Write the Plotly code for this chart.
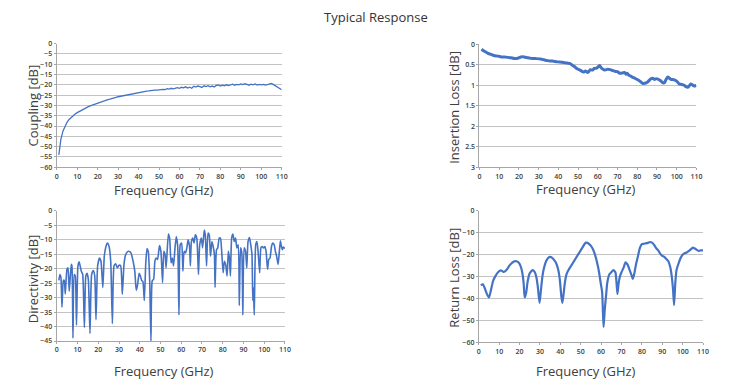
import plotly.graph_objects as go

W, H = 746, 388          # browser window
OFF = 8                  # default body margin of the html page
FW, FH = W - 2 * OFF, H - OFF   # figure size

# ---------------- data ----------------
coupling_f = list(range(1, 111))
coupling_db = [-54, -46.5, -42.5, -40, -38.2, -36.8, -35.8, -35, -34.2, -33.5,
               -32.9, -32.3, -31.8, -31.3, -30.8, -30.4, -30, -29.6, -29.2, -28.9,
               -28.5, -28.2, -27.9, -27.5, -27.2, -27, -26.6, -26.3, -26.1, -25.8,
               -25.6, -25.3, -25.2, -24.9, -24.7, -24.5, -24.2, -24.1, -23.9, -23.7,
               -23.5, -23.4, -23.2, -23.1, -23, -22.8, -22.7, -22.6, -22.6, -22.4,
               -22.3, -22.2, -22.3, -21.9, -22.1, -21.7, -22, -21.5, -21.4, -21.7,
               -21.2, -21.5, -21.0, -21.6, -21.2, -21.7, -20.7, -21.1, -20.6, -20.9,
               -21.3, -20.5, -20.9, -20.4, -21.0, -20.6, -21.1, -20.3, -20.1, -20.6,
               -20.2, -20.5, -20.0, -20.4, -20.1, -19.7, -20.2, -19.8, -20.0, -19.6,
               -19.9, -19.5, -19.8, -20.2, -19.7, -20.0, -19.6, -20.1, -19.8, -20.0,
               -19.8, -20.1, -19.9, -19.4, -19.3, -19.9, -20.6, -21.4, -21.8, -22.4]

il_f = [1, 2.5, 4.3, 6, 7.7, 9.5, 11, 12.7, 14.4, 16, 17.7, 19.5, 21, 22.7, 24.5, 26,
        28.5, 31, 32.7, 34.4, 37, 39.5, 42, 44.5, 46, 47, 48.3, 49.5, 51, 52, 53, 53.7,
        54.8, 55.5, 56.2, 57.3, 58.2, 59.5, 60.9, 61.5, 62, 63, 63.7, 65, 66.2, 67.5,
        68.7, 70, 71.2, 72.5, 73.7, 74.3, 74.9, 75.6, 76.3, 77.5, 78.8, 80, 81.3, 82.1,
        82.9, 83.8, 84.6, 85.5, 86.3, 87.1, 87.9, 88.8, 89.6, 90.5, 91.3, 92.1, 93, 93.8,
        94.6, 95.5, 96.3, 97.2, 98, 98.8, 100, 101.3, 102.5, 103.8, 104.6, 105.5, 106.3,
        107.2, 108, 108.9, 110]
il_db = [0.12, 0.17, 0.22, 0.25, 0.28, 0.29, 0.31, 0.31, 0.32, 0.33, 0.35, 0.34, 0.31,
         0.31, 0.33, 0.34, 0.35, 0.36, 0.38, 0.40, 0.41, 0.43, 0.44, 0.46, 0.47, 0.51,
         0.55, 0.60, 0.63, 0.66, 0.68, 0.65, 0.69, 0.66, 0.62, 0.63, 0.59, 0.58, 0.52,
         0.56, 0.59, 0.62, 0.63, 0.61, 0.62, 0.64, 0.66, 0.67, 0.71, 0.70, 0.69, 0.73,
         0.71, 0.75, 0.77, 0.80, 0.83, 0.86, 0.90, 0.93, 0.96, 0.95, 0.94, 0.91, 0.87,
         0.84, 0.83, 0.86, 0.84, 0.85, 0.87, 0.90, 0.94, 0.94, 0.86, 0.80, 0.83, 0.86,
         0.86, 0.87, 0.90, 0.97, 0.98, 1.00, 1.03, 1.05, 1.02, 0.97, 0.99, 1.02, 1.00]

dir_f = [1, 1.5, 2, 2.5, 3.2, 3.6, 4.1, 4.9, 5.4, 6, 7, 7.3, 7.8, 8.4, 8.9, 9.5, 10.2,
         10.8, 11.8, 12.5, 13.3, 14, 14.6, 15.2, 16, 16.8, 17.6, 18.3, 18.9, 19.7, 20.6,
         21.3, 22.2, 22.9, 23.7, 24.4, 25.2, 26, 26.8, 27.6, 28.4, 29.2, 30, 30.8, 31.6,
         32.4, 33.2, 34.3, 35.6, 36.8, 37.6, 38.1, 38.4, 39, 39.7, 40.3, 40.9, 41.5, 42.2,
         42.9, 43.5, 44.1, 44.8, 45.4, 46, 46.7, 47.3, 47.9, 48.6, 49.5, 50.2, 51, 51.6,
         52.2, 52.7, 53.8, 54.4, 55.1, 55.7, 56.3, 57, 57.6, 58.3, 58.9, 59.5, 60.2, 60.8,
         61.4, 62.1, 62.7, 63.3, 64, 64.4, 64.9, 65.6, 66.2, 66.8, 67.5, 68.3, 68.9, 69.7,
         70.3, 71.1, 71.6, 72.2, 72.9, 73.5, 74.1, 74.8, 75.4, 76, 76.3, 77, 77.6, 78.3,
         78.9, 79.5, 80.2, 80.8, 81.4, 82.1, 82.7, 83.2, 83.7, 84.3, 84.9, 85.6, 86.2,
         86.8, 87.5, 88, 88.6, 89.2, 89.7, 90.3, 91, 91.6, 92.2, 92.9, 93.5, 94.1, 94.5,
         94.8, 95.2, 95.9, 96.5, 97.1, 97.8, 98.4, 99, 99.7, 100.3, 100.9, 101.6, 102.2,
         102.8, 103.5, 104.1, 104.8, 105.4, 106, 106.7, 107.3, 107.8, 108.3, 108.8, 109.2,
         110]
dir_db = [-24, -22, -23, -33.3, -24, -24, -28.7, -20.2, -19.7, -27.8, -18.5, -19, -44,
          -22, -22.5, -39.5, -19, -17.6, -20.8, -22, -40.3, -22.5, -21.6, -23.6, -42.4,
          -22, -20.6, -22.5, -37.6, -19, -16.3, -17.4, -26.5, -15.7, -12.3, -11.1, -12.3,
          -17.4, -39, -19, -18.3, -19.7, -18.8, -19, -28.8, -18.5, -15.1, -14, -14.3,
          -17.4, -20.8, -25.9, -27.4, -25.3, -21.6, -22.5, -24, -24.4, -31, -18, -13, -14,
          -24.2, -45, -24.2, -23.6, -17.4, -16.3, -16.8, -12, -14, -24.8, -14, -15.1,
          -19.7, -8, -9.4, -18, -16.3, -19, -12.8, -8.9, -12.3, -36, -11.7, -11.1, -20.8,
          -14, -14.5, -12.8, -10, -12.3, -19, -10.6, -9.4, -11.1, -8.3, -9.4, -22, -11.7,
          -9.4, -12.8, -6.6, -8.3, -19, -7.7, -8.3, -15.7, -10.6, -12.3, -15.1, -26.5,
          -13.4, -12.8, -9.4, -9.4, -14, -21.4, -17.4, -18.5, -22.5, -14, -16.3, -22.5,
          -9.4, -8, -10.6, -9.4, -12.8, -11.7, -32.7, -12.8, -14.5, -36, -12.8, -14, -19.7,
          -10.6, -9.2, -11.7, -15.1, -31, -26.5, -36, -11.7, -10.6, -14.5, -21.4, -12.8,
          -12.3, -12.8, -12.3, -14, -20.2, -16.8, -16.3, -12.3, -11.1, -11.7, -14, -15.7,
          -18.5, -14, -10.3, -12.3, -13.4, -12.5, -13]

rl_f = [1, 2, 3, 4, 5, 6, 7, 8, 9, 10, 11, 12, 13, 14, 15, 16, 17, 18.5, 19.5, 20.5,
        21.3, 22, 22.5, 23.2, 24, 25, 26.5, 27.5, 28.3, 29, 29.8, 30.5, 31.2, 32, 33,
        34, 35, 36, 37, 38, 39, 39.7, 40.5, 41, 41.6, 42.2, 43, 44, 45, 46, 47, 48, 49,
        50, 51, 52.5, 54, 55, 56, 57, 58, 59, 59.8, 60.5, 61.2, 61.8, 62.5, 63, 64, 65,
        66, 67, 67.5, 68, 68.6, 69.2, 70, 71, 72, 73, 74, 75, 75.5, 76.2, 77, 78, 79, 80,
        81, 82, 83, 84, 85, 86, 87, 88, 89, 90, 91, 92, 93, 94, 94.8, 95.3, 95.8, 96.4,
        97, 98, 99, 100, 101, 102, 103, 104, 105, 106, 107, 108, 109, 110]
rl_db = [-34, -33.5, -35.5, -38, -39.5, -36, -32, -30, -28.5, -27.5, -27.2, -27.8,
         -27.5, -26.5, -25, -24, -23.2, -23, -23.6, -25.2, -28, -33, -39.5, -37.5, -32,
         -28.5, -27, -28, -30.5, -35, -42, -36, -30, -26, -23, -21.5, -21, -21.5, -22.5,
         -24, -27, -31, -39, -42, -38, -33, -29, -27, -25.5, -24, -22.5, -21, -19.5, -18,
         -16.5, -14.5, -15, -16, -17.5, -20, -23.5, -28, -33, -37, -53, -45, -38, -33,
         -29, -28, -27, -28, -32, -38, -33, -30, -28, -26, -23.5, -24.5, -27, -29.5, -31,
         -29, -25, -21, -17, -15.2, -15, -14.8, -14.6, -14.2, -14.5, -15.5, -17, -18,
         -19.5, -20.5, -21, -22, -23, -26, -31, -36, -43, -33, -27, -24, -21.5, -20,
         -19.3, -19, -18.3, -17.6, -16.8, -17.2, -17.8, -18.3, -18, -18]

# ---------------- layout helpers ----------------
BLUE = "#4472C4"
GRID = "#c3c3c3"
AXIS = "#a6a6a6"
TICKC = "#404040"
FONT = "Open Sans"


def px_x(v):
    return (v - OFF) / FW


def px_y(v):
    return 1 - (v - OFF) / FH


def dom_x(a, b):
    return [px_x(a), px_x(b)]


def dom_y(top, bottom):
    return [px_y(bottom), px_y(top)]


panels = [
    # (xdom px, ydom px, yrange, dtick, reversed)
    ((55.3, 282.7), (39.3, 166.0), [-60, 0], 5, False),
    ((482.7, 702.0), (40.0, 166.0), [0, 3], 0.5, True),
    ((55.3, 286.0), (210.7, 344.0), [-45, 0], 5, False),
    ((482.0, 708.7), (210.7, 345.3), [-60, 0], 10, False),
]

fig = go.Figure()
series = [(coupling_f, coupling_db, 1.3, "linear", 0),
          (il_f, il_db, 3.0, "spline", 0.4),
          (dir_f, dir_db, 1.6, "spline", 0.5),
          (rl_f, rl_db, 2.2, "spline", 0.6)]

TF = dict(size=7, color=TICKC, family=FONT, weight=600)

layout = {}
for i, ((xa, xb), (yt, yb), yr, dt, rev) in enumerate(panels):
    n = "" if i == 0 else str(i + 1)
    xs, ys, lw, shape, sm = series[i]
    line = dict(color=BLUE, width=lw, shape=shape)
    if shape == "spline":
        line["smoothing"] = sm
    fig.add_trace(go.Scatter(x=xs, y=ys, mode="lines", line=line,
                             xaxis="x" + n, yaxis="y" + n, showlegend=False,
                             hoverinfo="skip"))
    layout["xaxis" + n] = dict(
        domain=dom_x(xa, xb), anchor="y" + n, range=[0, 110], dtick=10, tick0=0,
        showgrid=False, showline=True, linecolor=AXIS, linewidth=1,
        ticks="outside", ticklen=2, tickcolor=AXIS, zeroline=False,
        tickfont=dict(TF))
    yrng = [yr[1], yr[0]] if rev else yr
    layout["yaxis" + n] = dict(
        domain=dom_y(yt, yb), anchor="x" + n, range=yrng, dtick=dt, tick0=0,
        showgrid=True, gridcolor=GRID, gridwidth=1, showline=True, linecolor=AXIS,
        linewidth=1, ticks="outside", ticklen=2, tickcolor=AXIS, zeroline=False,
        tickfont=dict(TF))

fig.update_layout(**layout)

TT = dict(size=13, color="#404040")
annots = [
    dict(text="Typical Response", x=px_x(378), y=px_y(12), font=dict(size=13, color="#333333")),
    dict(text="Coupling [dB]", x=px_x(31), y=px_y(103), textangle=-90, font=dict(TT)),
    dict(text="Insertion Loss [dB]", x=px_x(457), y=px_y(105), textangle=-90, font=dict(TT)),
    dict(text="Directivity [dB]", x=px_x(31), y=px_y(280), textangle=-90, font=dict(TT)),
    dict(text="Return Loss [dB]", x=px_x(457), y=px_y(279), textangle=-90, font=dict(TT)),
    dict(text="Frequency (GHz)", x=px_x(164), y=px_y(189), font=dict(TT)),
    dict(text="Frequency (GHz)", x=px_x(590), y=px_y(188.5), font=dict(TT)),
    dict(text="Frequency (GHz)", x=px_x(164), y=px_y(375), font=dict(TT)),
    dict(text="Frequency (GHz)", x=px_x(590), y=px_y(375), font=dict(TT)),
]
for a in annots:
    a.update(xref="paper", yref="paper", showarrow=False, xanchor="center", yanchor="middle")
    a["font"]["family"] = FONT

fig.update_layout(
    width=FW, height=FH, margin=dict(l=0, r=0, t=0, b=0),
    paper_bgcolor="white", plot_bgcolor="white",
    font=dict(family=FONT),
    annotations=annots,
)

fig.write_html("out.html")
